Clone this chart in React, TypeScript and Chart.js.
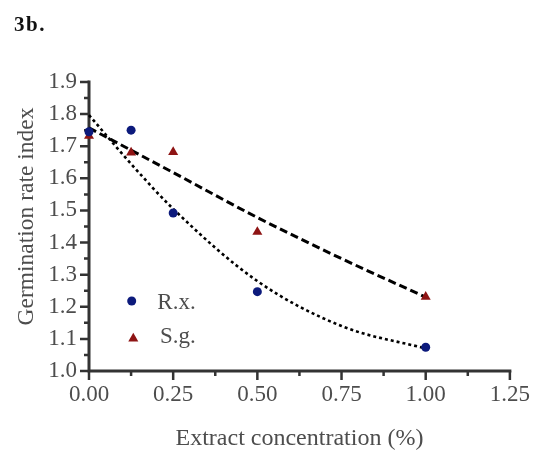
import React, { useEffect, useRef } from 'react';
import { Chart, registerables } from 'chart.js';

Chart.register(...registerables);

// ---- data ----
const concentrations = [0, 0.125, 0.25, 0.5, 1.0];
const rxValues = [1.745, 1.75, 1.492, 1.247, 1.074];
const sgValues = [1.732, 1.68, 1.682, 1.433, 1.231];
// trend curves
const rxFitX = [0, 0.125, 0.25, 0.5, 0.75, 1.0];
const rxFitY = [1.797, 1.645, 1.505, 1.28, 1.14, 1.07];
const sgFitX = [0, 0.25, 0.5, 0.75, 1.0];
const sgFitY = [1.757, 1.618, 1.478, 1.35, 1.23];
const seriesNames = ['R.x.', 'S.g.'];
const xTickValues = [0, 0.25, 0.5, 0.75, 1.0, 1.25];
const xMinorTicks = [0.125, 0.375, 0.625, 0.875, 1.125];
const yTickValues = [1.0, 1.1, 1.2, 1.3, 1.4, 1.5, 1.6, 1.7, 1.8, 1.9];
const yMinorTicks = [1.05, 1.15, 1.25, 1.35, 1.45, 1.55, 1.65, 1.75, 1.85];
const xTitle = 'Extract concentration (%)';
const yTitle = 'Germination rate index';
const panelLabel = '3b.';

const RX_COLOR = '#0c1a7c';
const SG_COLOR = '#8e1414';
const AXIS_COLOR = '#333333';
const TEXT_COLOR = '#4d4d4d';
const FONT = '"Liberation Serif", "Times New Roman", serif';

function drawTriangle(ctx: CanvasRenderingContext2D, x: number, y: number, r: number) {
  let rad = 0;
  ctx.beginPath();
  ctx.moveTo(x + Math.sin(rad) * r, y - Math.cos(rad) * r);
  rad += (2 * Math.PI) / 3;
  ctx.lineTo(x + Math.sin(rad) * r, y - Math.cos(rad) * r);
  rad += (2 * Math.PI) / 3;
  ctx.lineTo(x + Math.sin(rad) * r, y - Math.cos(rad) * r);
  ctx.closePath();
  ctx.fill();
}

const axesPlugin = {
  id: 'customAxes',
  beforeDatasetsDraw(chart: any) {
    const { ctx, scales, chartArea } = chart;
    const xs = scales.x;
    const ys = scales.y;
    const x0 = xs.getPixelForValue(0);
    const x1 = xs.getPixelForValue(1.25);
    const y0 = ys.getPixelForValue(1.0);
    const y1 = ys.getPixelForValue(1.9);
    ctx.save();
    ctx.strokeStyle = AXIS_COLOR;
    ctx.lineCap = 'butt';
    ctx.lineWidth = 3;
    ctx.beginPath();
    ctx.moveTo(x0, y1 - 1.5);
    ctx.lineTo(x0, y0 + 1.5);
    ctx.moveTo(x0 - 1.5, y0);
    ctx.lineTo(x1 + 1.5, y0);
    ctx.stroke();
    ctx.lineWidth = 2.5;
    ctx.beginPath();
    yTickValues.forEach((v) => {
      const p = ys.getPixelForValue(v);
      ctx.moveTo(x0 - 9, p);
      ctx.lineTo(x0, p);
    });
    yMinorTicks.forEach((v) => {
      const p = ys.getPixelForValue(v);
      ctx.moveTo(x0 - 5, p);
      ctx.lineTo(x0, p);
    });
    xTickValues.forEach((v) => {
      const p = xs.getPixelForValue(v);
      ctx.moveTo(p, y0);
      ctx.lineTo(p, y0 + 9);
    });
    xMinorTicks.forEach((v) => {
      const p = xs.getPixelForValue(v);
      ctx.moveTo(p, y0);
      ctx.lineTo(p, y0 + 5);
    });
    ctx.stroke();

    // y axis title
    ctx.fillStyle = TEXT_COLOR;
    ctx.font = `23.5px ${FONT}`;
    ctx.textAlign = 'center';
    ctx.textBaseline = 'alphabetic';
    ctx.translate(chartArea.left - 56, chartArea.top + 134.5);
    ctx.rotate(-Math.PI / 2);
    ctx.fillText(yTitle, 0, 0);
    ctx.restore();
  },
};

const legendPlugin = {
  id: 'insideLegend',
  afterDatasetsDraw(chart: any) {
    const { ctx, chartArea } = chart;
    const L = chartArea.left;
    const T = chartArea.top;
    ctx.save();
    ctx.fillStyle = RX_COLOR;
    ctx.beginPath();
    ctx.arc(L + 42.7, T + 219, 4.5, 0, Math.PI * 2);
    ctx.fill();
    ctx.fillStyle = SG_COLOR;
    drawTriangle(ctx, L + 44.3, T + 256.5, 5.8);
    ctx.fillStyle = TEXT_COLOR;
    ctx.font = `23px ${FONT}`;
    ctx.textBaseline = 'middle';
    ctx.textAlign = 'left';
    ctx.fillText(seriesNames[0], L + 68.3, T + 221);
    ctx.fillText(seriesNames[1], L + 71, T + 255);
    ctx.restore();
  },
};

export default function App() {
  const canvasRef = useRef<HTMLCanvasElement | null>(null);

  useEffect(() => {
    if (!canvasRef.current) return;
    const chart = new Chart(canvasRef.current, {
      type: 'scatter',
      data: {
        datasets: [
          {
            label: seriesNames[0] + ' fit',
            data: rxFitX.map((x, i) => ({ x, y: rxFitY[i] })),
            showLine: true,
            borderColor: '#000000',
            borderWidth: 2.6,
            borderDash: [3, 3],
            pointRadius: 0,
            cubicInterpolationMode: 'monotone',
            clip: false,
            order: 3,
          } as any,
          {
            label: seriesNames[1] + ' fit',
            data: sgFitX.map((x, i) => ({ x, y: sgFitY[i] })),
            showLine: true,
            borderColor: '#000000',
            borderWidth: 3,
            borderDash: [8, 4],
            pointRadius: 0,
            cubicInterpolationMode: 'monotone',
            clip: false,
            order: 3,
          } as any,
          {
            label: seriesNames[0],
            data: concentrations.map((x, i) => ({ x, y: rxValues[i] })),
            pointStyle: 'circle',
            pointRadius: 4.5,
            backgroundColor: RX_COLOR,
            borderColor: RX_COLOR,
            borderWidth: 0,
            clip: false,
            order: 1,
          } as any,
          {
            label: seriesNames[1],
            data: concentrations.map((x, i) => ({ x, y: sgValues[i] })),
            pointStyle: 'triangle',
            pointRadius: 5.8,
            backgroundColor: SG_COLOR,
            borderColor: SG_COLOR,
            borderWidth: 0,
            clip: false,
            order: 2,
          } as any,
        ],
      },
      options: {
        animation: false,
        responsive: true,
        maintainAspectRatio: false,
        layout: { padding: { top: 74, right: 19, left: 0, bottom: 0 } },
        plugins: {
          legend: { display: false },
          tooltip: { enabled: false },
          title: { display: false },
        },
        scales: {
          x: {
            type: 'linear',
            min: 0,
            max: 1.25,
            afterFit: (s: any) => { s.height = 84; },
            afterBuildTicks: (s: any) => { s.ticks = xTickValues.map((v) => ({ value: v })); },
            grid: { display: false, drawTicks: false },
            border: { display: false },
            ticks: {
              padding: 10,
              color: TEXT_COLOR,
              font: { family: FONT, size: 23 },
              maxRotation: 0,
              callback: (v: any) => Number(v).toFixed(2),
            },
            title: {
              display: true,
              text: xTitle,
              color: TEXT_COLOR,
              font: { family: FONT, size: 24 },
              padding: { top: 0, bottom: 2 },
            },
          },
          y: {
            type: 'linear',
            min: 1.0,
            max: 1.9,
            afterFit: (s: any) => { s.width = 81; },
            afterBuildTicks: (s: any) => { s.ticks = yTickValues.map((v) => ({ value: v })); },
            grid: { display: false, drawTicks: false },
            border: { display: false },
            ticks: {
              padding: 12,
              color: TEXT_COLOR,
              font: { family: FONT, size: 23 },
              callback: (v: any) => Number(v).toFixed(1),
            },
            title: { display: false },
          },
        },
      },
      plugins: [axesPlugin, legendPlugin],
    });
    return () => chart.destroy();
  }, []);

  return (
    <div style={{ position: 'relative', width: 532, height: 447 }}>
      <div
        style={{
          position: 'absolute',
          left: 6,
          top: 4,
          fontFamily: FONT,
          fontWeight: 'bold',
          fontSize: 21,
          letterSpacing: '1.5px',
          color: '#111111',
          lineHeight: '24px',
        }}
      >
        {panelLabel}
      </div>
      <canvas ref={canvasRef} />
    </div>
  );
}
